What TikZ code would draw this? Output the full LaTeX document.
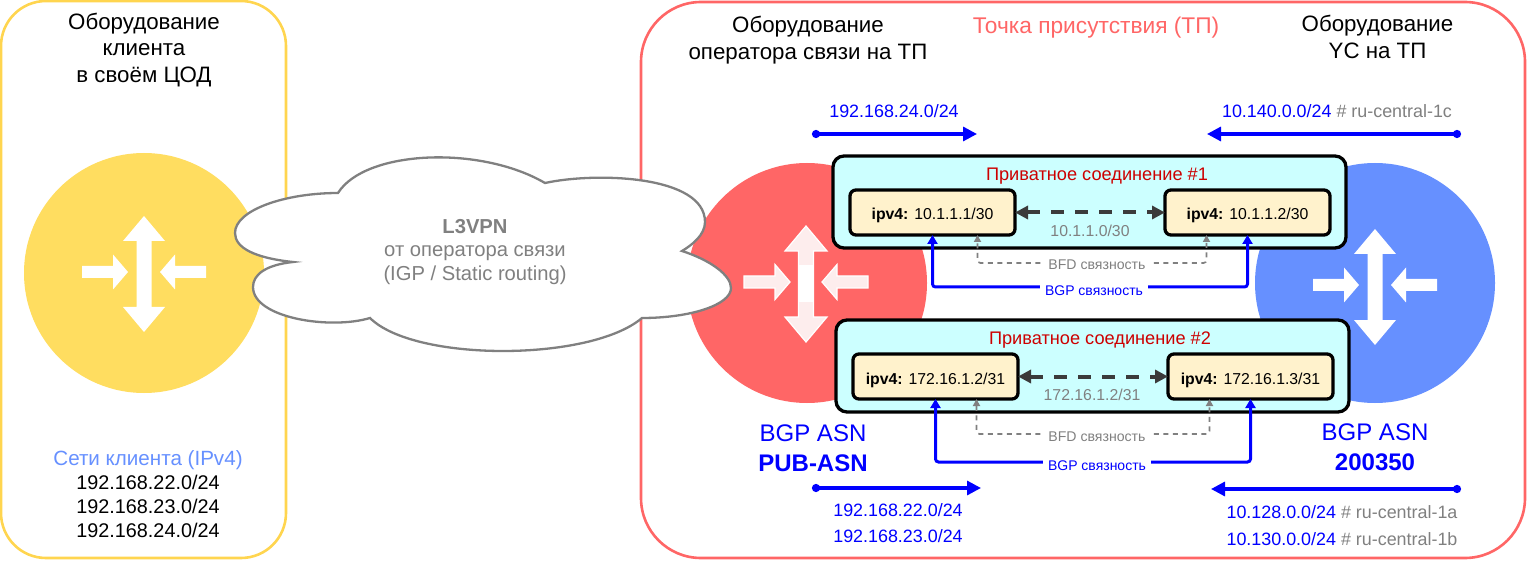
\documentclass[tikz,border=0pt]{standalone}
\usepackage{fontspec}
\setmainfont{Liberation Sans}
\usetikzlibrary{arrows.meta}
\definecolor{clientyellow}{HTML}{FFD54F}
\definecolor{routeryellow}{HTML}{FFDD60}
\definecolor{poprouter}{HTML}{FF6666}
\definecolor{ycblue}{HTML}{6690FF}
\definecolor{linkcyan}{HTML}{CCFFFF}
\definecolor{ipcream}{HTML}{FFF2CC}
\definecolor{darkred}{HTML}{CC0000}
\definecolor{darklink}{HTML}{3B3B3B}
\definecolor{softpink}{HTML}{FDEDED}
\newcommand{\sz}[2]{\fontsize{#1}{#2}\selectfont}
\tikzset{
  routericon/.pic={
    \path[pic actions] (0,-56) -- (21,-31) -- (7.5,-31) -- (7.5,35) -- (21,35) -- (0,60) -- (-21,35) -- (-7.5,35) -- (-7.5,-31) -- (-21,-31) -- cycle;
    \path[pic actions] (-62,-6) -- (-31,-6) -- (-31,-17.5) -- (-16,0) -- (-31,17.5) -- (-31,6) -- (-62,6) -- cycle;
    \path[pic actions] (62,-6) -- (31,-6) -- (31,-17.5) -- (16,0) -- (31,17.5) -- (31,6) -- (62,6) -- cycle;
  }
}
\begin{document}
\begin{tikzpicture}[x=1pt,y=-1pt]
    \tikzstyle{zone}=[draw,line width=2.6pt,fill=white]
    \tikzstyle{router}=[circle,minimum size=240pt,inner sep=0pt]
    \tikzstyle{linkbox}=[draw=black,line width=3.3pt,fill=linkcyan,rounded corners=11pt,minimum width=513pt,minimum height=92pt,outer sep=0pt]
    \tikzstyle{ipbox}=[draw=black,line width=3.3pt,fill=ipcream,rounded corners=6pt,minimum width=165pt,minimum height=45pt,outer sep=0pt,font=\sz{15.8}{18},text height=15pt,text depth=0pt]
    \tikzstyle{bgplabel}=[fill=white,text=blue,font=\sz{14}{16},inner xsep=5pt,inner ysep=0pt,text height=16pt,text depth=0pt]
    \tikzstyle{bfdlabel}=[fill=white,text=gray,font=\sz{14.1}{16},inner xsep=8pt,inner ysep=0pt,text height=14pt,text depth=0pt]
    \tikzstyle{bgplink}=[draw=blue,line width=3pt,rounded corners=3pt,-{Triangle[length=9pt,width=10pt]}]
    \tikzstyle{bfdlink}=[draw=gray,line width=1.7pt,rounded corners=3pt,dash pattern=on 5pt off 4.5pt,-{Triangle[length=7pt,width=7pt]}]
    \tikzstyle{ptp}=[draw=darklink,line width=4pt,dash pattern=on 13pt off 11pt,{Triangle[length=13pt,width=13pt]}-{Triangle[length=13pt,width=13pt]}]
    \tikzstyle{route}=[draw=blue,line width=3.2pt,{Circle[length=8pt,width=8pt]}-{Triangle[length=14pt,width=14pt]}]
    \tikzstyle{net}=[text=blue,font=\sz{17.9}{20}]
    \tikzstyle{title}=[align=center,font=\sz{22.3}{26.5}]
    \useasboundingbox (0,0) rectangle (1527,580);
    \draw[zone,draw=clientyellow,rounded corners=45pt] (1,1) rectangle (286,558);
    \draw[zone,draw=poprouter,rounded corners=60pt] (641,2) rectangle (1525,558);
    \node[router,fill=routeryellow] (client) at (144,273) {};
    \node[router,fill=poprouter] (oper) at (807,283) {};
    \node[router,fill=ycblue] (yc) at (1375,283) {};
    \pic[fill=white] at (144,272) {routericon};
    \pic[fill=softpink,draw=white,line width=1.2pt] at (806,282) {routericon};
    \fill[white] (799,265) rectangle (813,302);
    \pic[fill=white] at (1375,285) {routericon};
    \draw[draw=gray,line width=2.3pt,fill=white] (338,193)
        .. controls (365,150) and (480,145) .. (545,183)
        .. controls (595,172) and (705,175) .. (705,222)
        .. controls (705,235) and (692,245) .. (682,251)
        .. controls (710,260) and (731,275) .. (731,288)
        .. controls (731,305) and (690,318) .. (642,318)
        .. controls (590,362) and (414,362) .. (370,318)
        .. controls (330,330) and (253,318) .. (253,287)
        .. controls (253,275) and (265,265) .. (293,262)
        .. controls (255,258) and (235,248) .. (235,233)
        .. controls (235,210) and (285,193) .. (338,193) -- cycle;
    \node[align=center,text=gray,font=\sz{20.2}{23.5}] (vpn) at (475,252) {\textbf{L3VPN}\\от оператора связи\\(IGP / Static routing)};
    \node[title] (clienttitle) at (144,50) {Оборудование\\клиента\\в своём ЦОД};
    \node[title] (opertitle) at (808,40) {Оборудование\\оператора связи на ТП};
    \node[title,text=poprouter,font=\sz{22.7}{26.5}] (poptitle) at (1096,28) {Точка присутствия (ТП)};
    \node[title] (yctitle) at (1377.5,37) {Оборудование\\YC на ТП};
    \node[linkbox] (linka) at (1089.5,202) {};
    \node[linkbox] (linkb) at (1092.5,366) {};
    \node[text=darkred,font=\sz{18.2}{20}] (capa) at (1097,176) {Приватное соединение \#1};
    \node[text=darkred,font=\sz{18.2}{20}] (capb) at (1100,340) {Приватное соединение \#2};
    \node[ipbox] (ipaa) at (932.5,212.5) {\textbf{ipv4:} 10.1.1.1/30};
    \node[ipbox] (ipab) at (1247.5,212.5) {\textbf{ipv4:} 10.1.1.2/30};
    \node[ipbox] (ipba) at (935.5,376.5) {\textbf{ipv4:} 172.16.1.2/31};
    \node[ipbox] (ipbb) at (1250.5,376.5) {\textbf{ipv4:} 172.16.1.3/31};
    \draw[ptp] (ipaa) -- (ipab);
    \draw[ptp] (ipba) -- (ipbb);
    \node[text=gray,font=\sz{15.8}{18}] (suba) at (1090,231) {10.1.1.0/30};
    \node[text=gray,font=\sz{15.8}{18}] (subb) at (1092,395) {172.16.1.2/31};
    \node[bfdlabel] (bfda) at (1097,263) {BFD связность};
    \node[bfdlabel] (bfdb) at (1097,434) {BFD связность};
    \node[bgplabel] (bgpa) at (1094,287) {BGP связность};
    \node[bgplabel] (bgpb) at (1097,462) {BGP связность};
    \draw[bfdlink] (bfda.west) -| ([xshift=45pt]ipaa.south);
    \draw[bfdlink] (bfda.east) -| ([xshift=-41pt]ipab.south);
    \draw[bfdlink] (bfdb.west) -| ([xshift=41pt]ipba.south);
    \draw[bfdlink] (bfdb.east) -| ([xshift=-41pt]ipbb.south);
    \draw[bgplink] (bgpa.west) -| (ipaa.south);
    \draw[bgplink] (bgpa.east) -| (ipab.south);
    \draw[bgplink] (bgpb.west) -| (ipba.south);
    \draw[bgplink] (bgpb.east) -| (ipbb.south);
    \coordinate (rta) at (812,134);
    \coordinate (rtb) at (977,134);
    \coordinate (rtc) at (1461,134);
    \coordinate (rtd) at (1207,134);
    \coordinate (rte) at (812,488);
    \coordinate (rtf) at (981,488);
    \coordinate (rtg) at (1461,489);
    \coordinate (rth) at (1211,489);
    \draw[route] (rta) -- (rtb);
    \draw[route] (rtc) -- (rtd);
    \draw[route] (rte) -- (rtf);
    \draw[route] (rtg) -- (rth);
    \node[net] (neta) at (894,111) {192.168.24.0/24};
    \node[net] (netb) at (1337,111) {10.140.0.0/24 \textcolor{gray}{\# ru-central-1c}};
    \node[net] (netc) at (898,510) {192.168.22.0/24};
    \node[net] (netd) at (898,536) {192.168.23.0/24};
    \node[net] (nete) at (1342,512) {10.128.0.0/24 \textcolor{gray}{\# ru-central-1a}};
    \node[net] (netf) at (1342,539) {10.130.0.0/24 \textcolor{gray}{\# ru-central-1b}};
    \node[align=center,text=blue,font=\sz{24}{30}] (asna) at (813,448) {BGP ASN\\\textbf{PUB-ASN}};
    \node[align=center,text=blue,font=\sz{24}{30}] (asnb) at (1375,447) {BGP ASN\\\textbf{200350}};
    \node[align=center,font=\sz{19.8}{24}] (nets) at (148,494) {\textcolor{ycblue}{\fontsize{20.6}{24}\selectfont Сети клиента (IPv4)}\\192.168.22.0/24\\192.168.23.0/24\\192.168.24.0/24};
\end{tikzpicture}
\end{document}
